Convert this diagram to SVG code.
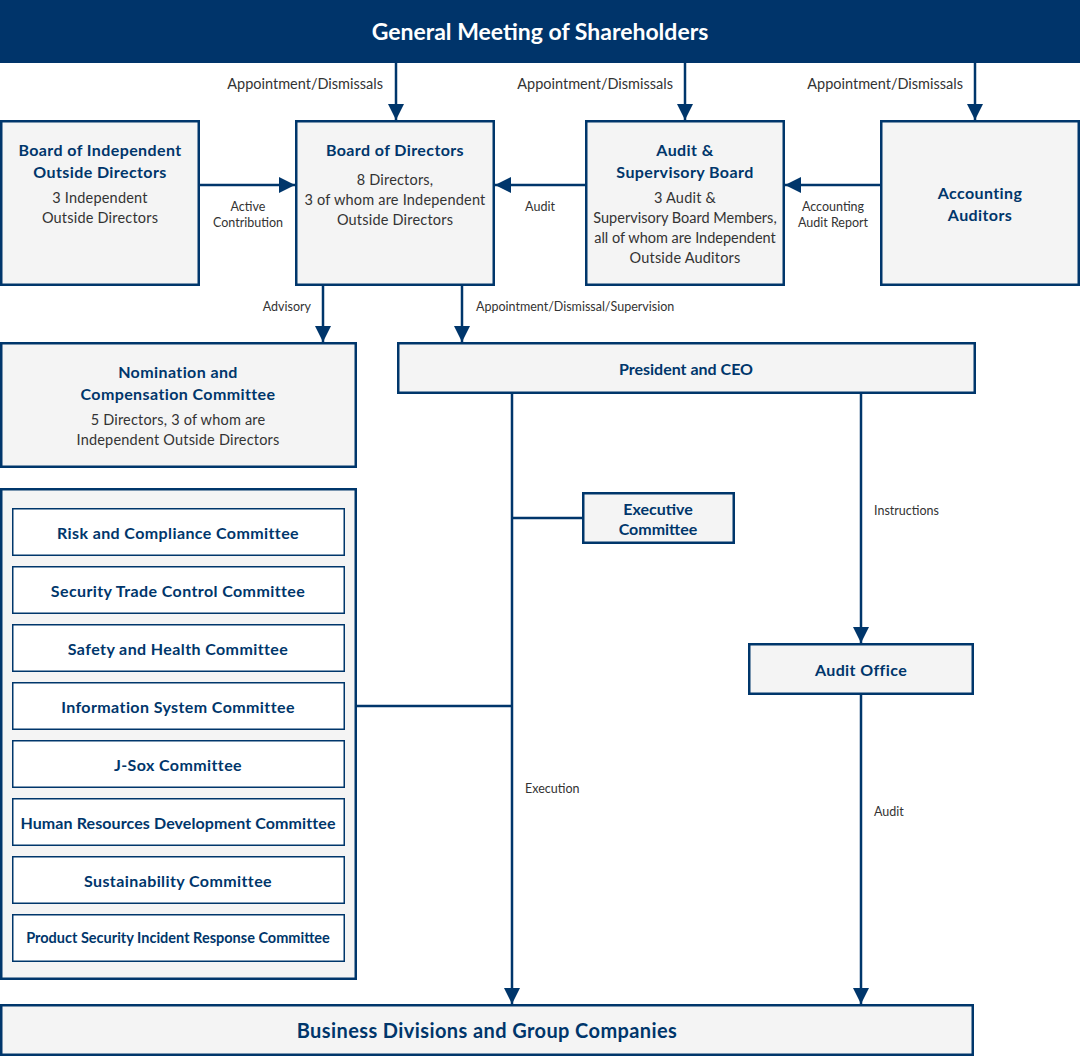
<svg xmlns="http://www.w3.org/2000/svg" width="1080" height="1056" viewBox="0 0 1080 1056">
<defs>
<style>
.box{fill:#f4f4f4;stroke:#00366b;stroke-width:2.5}
.sub{fill:#ffffff;stroke:#00366b;stroke-width:1.5}
.ln{fill:none;stroke:#00366b;stroke-width:2.5}
.t{font-family:Lato,"Noto Sans",sans-serif;font-weight:700;fill:#00366b;text-anchor:middle;font-size:16px;letter-spacing:0.4px}
.b{font-family:Lato,"Noto Sans",sans-serif;font-weight:400;fill:#333333;text-anchor:middle;font-size:14.5px;letter-spacing:0.2px}
.l{font-family:Lato,"Noto Sans",sans-serif;font-weight:400;fill:#333333;font-size:14.5px}
.s{font-family:Lato,"Noto Sans",sans-serif;font-weight:400;fill:#333333;font-size:12.5px}
</style>
<marker id="ah" markerUnits="userSpaceOnUse" markerWidth="16" markerHeight="16" viewBox="0 0 16 16" refX="16" refY="8" orient="auto">
<path d="M0,0 L16,8 L0,16 Z" fill="#00366b"/>
</marker>
</defs>
<rect width="1080" height="1056" fill="#ffffff"/>

<g id="connectors">
<line class="ln" x1="396" y1="63" x2="396" y2="120" marker-end="url(#ah)"/>
<line class="ln" x1="685" y1="63" x2="685" y2="120" marker-end="url(#ah)"/>
<line class="ln" x1="975" y1="63" x2="975" y2="120" marker-end="url(#ah)"/>
<line class="ln" x1="199" y1="185" x2="295" y2="185" marker-end="url(#ah)"/>
<line class="ln" x1="586" y1="185" x2="495" y2="185" marker-end="url(#ah)"/>
<line class="ln" x1="881" y1="185" x2="785" y2="185" marker-end="url(#ah)"/>
<line class="ln" x1="323" y1="285" x2="323" y2="342" marker-end="url(#ah)"/>
<line class="ln" x1="462" y1="285" x2="462" y2="342" marker-end="url(#ah)"/>
<line class="ln" x1="512" y1="393" x2="512" y2="1004" marker-end="url(#ah)"/>
<line class="ln" x1="861" y1="393" x2="861" y2="643" marker-end="url(#ah)"/>
<line class="ln" x1="861" y1="694" x2="861" y2="1004" marker-end="url(#ah)"/>
<line class="ln" x1="512" y1="518" x2="583" y2="518"/>
<line class="ln" x1="356" y1="706" x2="512" y2="706"/>
<text class="l" x="383" y="89" text-anchor="end">Appointment/Dismissals</text>
<text class="l" x="673" y="89" text-anchor="end">Appointment/Dismissals</text>
<text class="l" x="963" y="89" text-anchor="end">Appointment/Dismissals</text>
<text class="s" x="248" y="211" text-anchor="middle">Active</text>
<text class="s" x="248" y="227" text-anchor="middle">Contribution</text>
<text class="s" x="540" y="211" text-anchor="middle">Audit</text>
<text class="s" x="833" y="211" text-anchor="middle">Accounting</text>
<text class="s" x="833" y="227" text-anchor="middle">Audit Report</text>
<text class="s" x="311" y="311" text-anchor="end">Advisory</text>
<text class="s" x="476" y="311">Appointment/Dismissal/Supervision</text>
<text class="s" x="874" y="515">Instructions</text>
<text class="s" x="525" y="793">Execution</text>
<text class="s" x="874" y="816">Audit</text>
</g>

<g id="gms">
<rect x="0" y="0" width="1080" height="63" fill="#00346a"/>
<text x="540" y="40" font-family="Lato,'Noto Sans',sans-serif" font-weight="700" font-size="23" fill="#ffffff" text-anchor="middle">General Meeting of Shareholders</text>
</g>

<g id="biod">
<rect class="box" x="1.25" y="121.25" width="197.5" height="163.5"/>
<text class="t" x="100" y="156">Board of Independent</text>
<text class="t" x="100" y="178">Outside Directors</text>
<text class="b" x="100" y="203">3 Independent</text>
<text class="b" x="100" y="223">Outside Directors</text>
</g>

<g id="bod">
<rect class="box" x="296.25" y="121.25" width="197.5" height="163.5"/>
<text class="t" x="395" y="156">Board of Directors</text>
<text class="b" x="395" y="185">8 Directors,</text>
<text class="b" x="395" y="205">3 of whom are Independent</text>
<text class="b" x="395" y="225">Outside Directors</text>
</g>

<g id="asb">
<rect class="box" x="586.25" y="121.25" width="197.5" height="163.5"/>
<text class="t" x="685" y="156">Audit &amp;</text>
<text class="t" x="685" y="178">Supervisory Board</text>
<text class="b" x="685" y="203">3 Audit &amp;</text>
<text class="b" x="685" y="223" style="letter-spacing:0">Supervisory Board Members,</text>
<text class="b" x="685" y="243" style="letter-spacing:0">all of whom are Independent</text>
<text class="b" x="685" y="263">Outside Auditors</text>
</g>

<g id="aa">
<rect class="box" x="881.25" y="121.25" width="197.5" height="163.5"/>
<text class="t" x="980" y="199">Accounting</text>
<text class="t" x="980" y="221">Auditors</text>
</g>

<g id="ncc">
<rect class="box" x="1.25" y="343.25" width="354.5" height="123.5"/>
<text class="t" x="178" y="378">Nomination and</text>
<text class="t" x="178" y="400">Compensation Committee</text>
<text class="b" x="178" y="425">5 Directors, 3 of whom are</text>
<text class="b" x="178" y="445">Independent Outside Directors</text>
</g>

<g id="ceo">
<rect class="box" x="398.25" y="343.25" width="576.5" height="49.5"/>
<text class="t" x="686" y="375" style="letter-spacing:0">President and CEO</text>
</g>

<g id="exec">
<rect class="box" x="583.25" y="493.25" width="150.5" height="49.5"/>
<text class="t" x="658" y="515" style="letter-spacing:0">Executive</text>
<text class="t" x="658" y="535" style="letter-spacing:0">Committee</text>
</g>

<g id="committees">
<rect class="box" x="1.25" y="489.25" width="354.5" height="489.5"/>
<rect class="sub" x="12.75" y="508.75" width="331.5" height="46.5"/>
<text class="t" x="178" y="539">Risk and Compliance Committee</text>
<rect class="sub" x="12.75" y="566.75" width="331.5" height="46.5"/>
<text class="t" x="178" y="597">Security Trade Control Committee</text>
<rect class="sub" x="12.75" y="624.75" width="331.5" height="46.5"/>
<text class="t" x="178" y="655">Safety and Health Committee</text>
<rect class="sub" x="12.75" y="682.75" width="331.5" height="46.5"/>
<text class="t" x="178" y="713">Information System Committee</text>
<rect class="sub" x="12.75" y="740.75" width="331.5" height="46.5"/>
<text class="t" x="178" y="771">J-Sox Committee</text>
<rect class="sub" x="12.75" y="798.75" width="331.5" height="46.5"/>
<text class="t" x="178" y="829" style="letter-spacing:0.1px">Human Resources Development Committee</text>
<rect class="sub" x="12.75" y="856.75" width="331.5" height="46.5"/>
<text class="t" x="178" y="887">Sustainability Committee</text>
<rect class="sub" x="12.75" y="914.75" width="331.5" height="46.5"/>
<text class="t" x="178" y="943" style="font-size:14.5px;letter-spacing:0">Product Security Incident Response Committee</text>
</g>

<g id="auditoffice">
<rect class="box" x="749.25" y="644.25" width="223.5" height="49.5"/>
<text class="t" x="861" y="676">Audit Office</text>
</g>

<g id="bdgc">
<rect class="box" x="1.25" y="1005.25" width="971.5" height="49.5"/>
<text class="t" x="487" y="1038" style="font-size:20px;letter-spacing:0.4px">Business Divisions and Group Companies</text>
</g>
</svg>
